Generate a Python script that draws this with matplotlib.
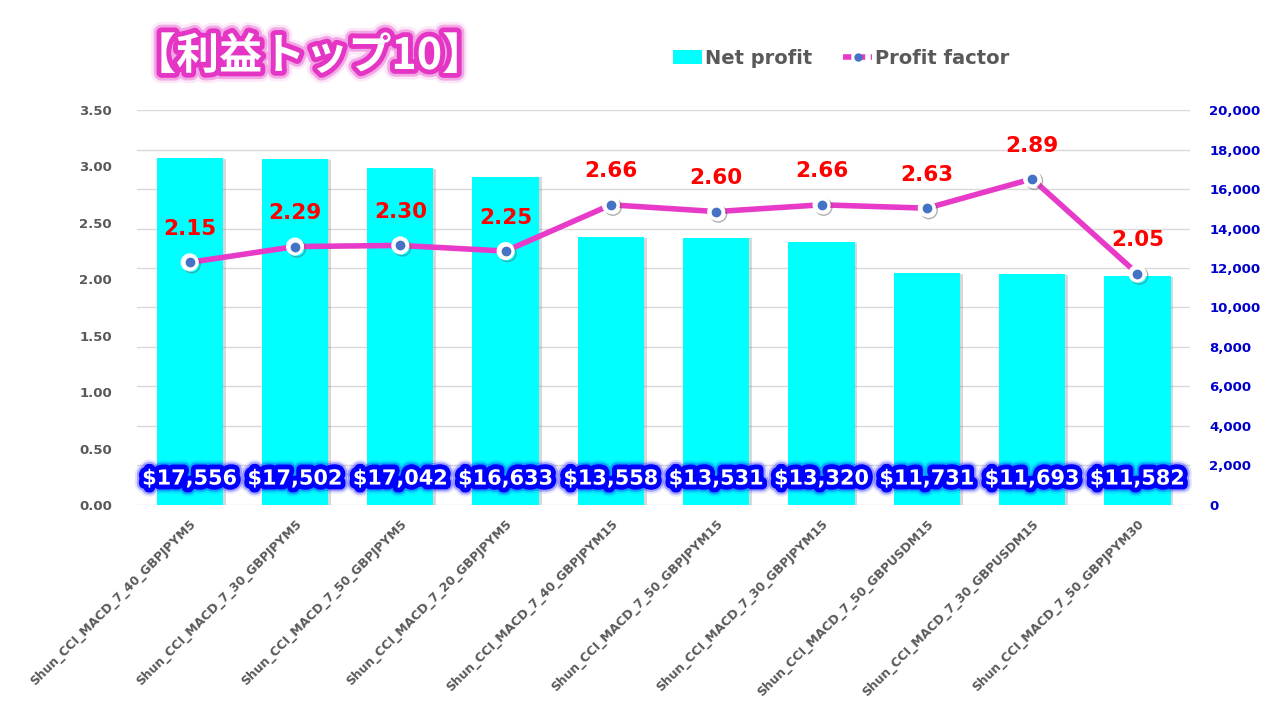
import matplotlib
matplotlib.use("Agg")
import matplotlib.pyplot as plt
import matplotlib.patheffects as pe
from matplotlib.patches import Patch
from matplotlib.lines import Line2D
from matplotlib.ticker import FuncFormatter, MultipleLocator

plt.rcParams['font.family'] = ['DejaVu Sans', 'Noto Sans CJK JP']

categories = [
    "Shun_CCI_MACD_7_40_GBPJPYM5",
    "Shun_CCI_MACD_7_30_GBPJPYM5",
    "Shun_CCI_MACD_7_50_GBPJPYM5",
    "Shun_CCI_MACD_7_20_GBPJPYM5",
    "Shun_CCI_MACD_7_40_GBPJPYM15",
    "Shun_CCI_MACD_7_50_GBPJPYM15",
    "Shun_CCI_MACD_7_30_GBPJPYM15",
    "Shun_CCI_MACD_7_50_GBPUSDM15",
    "Shun_CCI_MACD_7_30_GBPUSDM15",
    "Shun_CCI_MACD_7_50_GBPJPYM30",
]
net_profit = [17556, 17502, 17042, 16633, 13558, 13531, 13320, 11731, 11693, 11582]
profit_factor = [2.15, 2.29, 2.30, 2.25, 2.66, 2.60, 2.66, 2.63, 2.89, 2.05]

title = "【利益トップ10】"
legend_labels = ["Net profit", "Profit factor"]

CYAN = "#00FFFF"
MAGENTA = "#E83AC8"
BLUE_DOT = "#4472C4"
GRAY = "#595959"
RIGHT_BLUE = "#0000CC"

fig = plt.figure(figsize=(12.81, 7.03), dpi=100)
ax = fig.add_axes([0.107, 0.2817, 0.822, 0.5618])
axr = ax.twinx()

x = list(range(len(categories)))

# bars on right axis
bars = axr.bar(x, net_profit, width=0.63, color=CYAN, zorder=2)
for b in bars:
    b.set_path_effects([pe.SimplePatchShadow(offset=(2, -0.5), shadow_rgbFace='#808080', alpha=0.3), pe.Normal()])
axr.set_ylim(0, 20000)
axr.yaxis.set_major_locator(MultipleLocator(2000))
axr.yaxis.set_major_formatter(FuncFormatter(lambda v, p: f"{int(v):,}"))
axr.grid(axis='y', color='#D9D9D9', lw=1)
axr.set_axisbelow(True)
axr.tick_params(axis='y', length=0, pad=14, labelsize=9.5, labelcolor=RIGHT_BLUE)
for lab in axr.get_yticklabels():
    lab.set_fontweight('bold')

# net profit labels
glow = [pe.withStroke(linewidth=13, foreground='#3030FF', alpha=0.12),
        pe.withStroke(linewidth=10, foreground='#1010FF', alpha=0.3),
        pe.withStroke(linewidth=7, foreground='#0000FF', alpha=1.0)]
for xi, v in zip(x, net_profit):
    axr.annotate(f"${v:,}", (xi, 0), xytext=(0, 19), textcoords='offset points',
                 ha='center', va='center', fontsize=15, fontweight='bold', color='white',
                 path_effects=glow, zorder=5)

# line on left axis
ax.set_zorder(axr.get_zorder() + 1)
ax.patch.set_visible(False)
ax.plot(x, profit_factor, color=MAGENTA, lw=4, zorder=3, solid_capstyle='round')
ax.plot(x, profit_factor, ls='none', marker='o', markersize=12, markerfacecolor='white',
        markeredgecolor='white', zorder=4,
        path_effects=[pe.SimpleLineShadow(offset=(1.5, -1.5), shadow_color='#606060', alpha=0.5), pe.Normal()])
ax.plot(x, profit_factor, ls='none', marker='o', markersize=6, markerfacecolor=BLUE_DOT,
        markeredgecolor=BLUE_DOT, zorder=5)
for xi, v in zip(x, profit_factor):
    ax.annotate(f"{v:.2f}", (xi, v), xytext=(0, 24), textcoords='offset points',
                ha='center', va='center', fontsize=15.5, fontweight='bold', color='#FF0000', zorder=6)

ax.set_ylim(0, 3.5)
ax.set_xlim(-0.5, len(categories) - 0.5)
ax.yaxis.set_major_locator(MultipleLocator(0.5))
ax.yaxis.set_major_formatter(FuncFormatter(lambda v, p: f"{v:.2f}"))
ax.tick_params(axis='y', length=0, pad=18, labelsize=9.5, labelcolor=GRAY)
for lab in ax.get_yticklabels():
    lab.set_fontweight('bold')

ax.set_xticks(x)
ax.set_xticklabels(categories, rotation=45, ha='right', rotation_mode='anchor',
                   fontsize=8.9, color=GRAY, fontweight='bold')
ax.tick_params(axis='x', length=0, pad=9)

for a in (ax, axr):
    for s in a.spines.values():
        s.set_visible(False)

# title
fig.text(133 / 1281, 1 - 56 / 703, title, fontsize=31, fontweight='bold', color='white',
         family=['Noto Sans CJK JP', 'DejaVu Sans'], ha='left', va='center',
         path_effects=[pe.withStroke(linewidth=15, foreground='#F4A6E6', alpha=0.25),
                       pe.withStroke(linewidth=11, foreground='#EC6AD6', alpha=0.5),
                       pe.withStroke(linewidth=7, foreground='#E535C5', alpha=1.0)])

# legend
handles = [Patch(facecolor=CYAN, edgecolor='none'),
           Line2D([], [], color=MAGENTA, lw=4, ls=(0, (1.5, 1)), marker='o',
                  markerfacecolor=BLUE_DOT, markeredgecolor=BLUE_DOT, markersize=5)]
leg = fig.legend(handles, legend_labels, loc='center', bbox_to_anchor=(841 / 1281, 1 - 58 / 703),
                 ncol=2, frameon=False, fontsize=14, handlelength=1.5, handletextpad=0.15,
                 columnspacing=1.6)
for t in leg.get_texts():
    t.set_color(GRAY)
    t.set_fontweight('bold')

fig.savefig("out.png", dpi=100)
